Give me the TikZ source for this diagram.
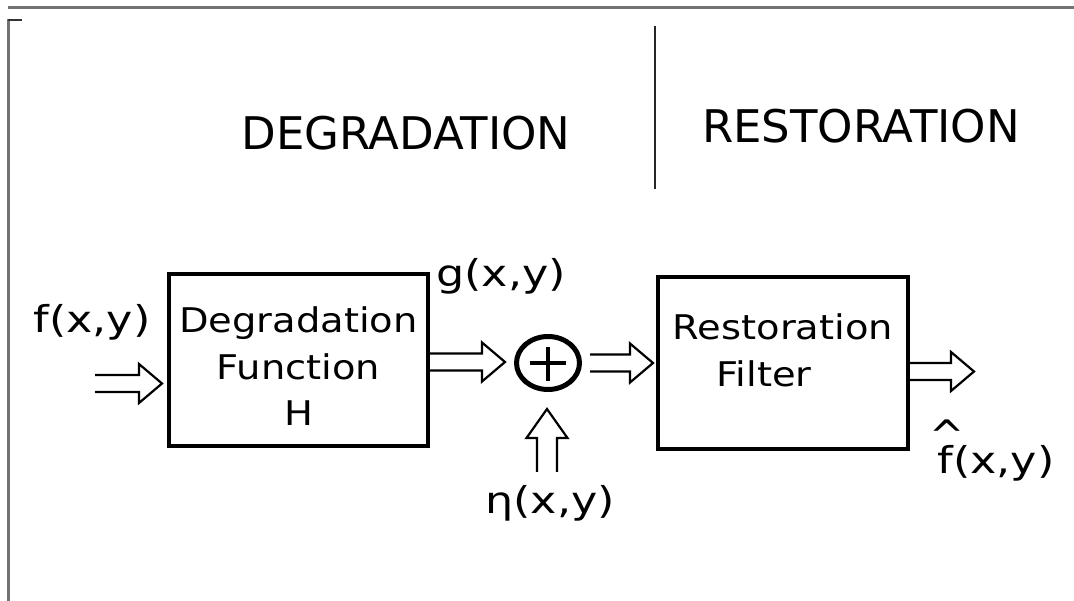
\documentclass[tikz,border=0pt]{standalone}
\usepackage{fontspec}
\setmainfont{DejaVu Sans}
\newfontfamily\hdrfont{DejaVu Sans}
\newfontfamily\boxfont[FakeStretch=1.13]{DejaVu Sans}
\newfontfamily\lblfont[FakeStretch=1.2]{DejaVu Sans}
\usetikzlibrary{calc,shapes.geometric}
\begin{document}
\begin{tikzpicture}[x=1pt,y=-1pt,
  frame/.style={draw=black!55, line width=3pt},
  hdr/.style={font=\hdrfont\fontsize{45}{54}\selectfont, inner sep=0pt},
  blk/.style={draw, line width=4pt, font=\boxfont\fontsize{34}{46.5}\selectfont, align=center, inner sep=0pt},
  lbl/.style={font=\lblfont\fontsize{37}{44}\selectfont, inner sep=0pt, anchor=base},
  harrow/.style={line width=2.2pt, line join=miter, to path={let \p1=(\tikztostart), \p2=(\tikztotarget) in
     (\x1,\y1+8.5pt) -- (\x2-#1-23pt,\y1+8.5pt) -- (\x2-#1-23pt,\y1+19.5pt) -- (\x2-#1,\y1)
     -- (\x2-#1-23pt,\y1-19.5pt) -- (\x2-#1-23pt,\y1-8.5pt) -- (\x1,\y1-8.5pt)}},
  harrow/.default=0pt,
  varrow/.style={line width=2.2pt, line join=miter, to path={let \p1=(\tikztostart), \p2=(\tikztotarget) in
     (\x1-10pt,\y1) -- (\x1-10pt,\y2-#1-29pt) -- (\x1-20.5pt,\y2-#1-29pt) -- (\x1,\y2-#1)
     -- (\x1+20.5pt,\y2-#1-29pt) -- (\x1+10pt,\y2-#1-29pt) -- (\x1+10pt,\y1)}},
  varrow/.default=0pt
]
\useasboundingbox (0,0) rectangle (1074,601);
% frame
\draw[frame] (8,8) -- (1074,8);
\draw[frame] (8.5,19) -- (8.5,601);
\draw[line width=2pt, black!80] (8,20) -- (22,20);
% headings and divider
\node[hdr] (hdeg) at (406,133) {DEGRADATION};
\node[hdr] (hres) at (861,126.5) {RESTORATION};
\coordinate (dtop) at (655,26);
\coordinate (dbot) at (655,189);
\draw[line width=2pt, black!85] (dtop) -- (dbot);
% blocks
\node[blk, minimum width=259, minimum height=172] (deg) at (298.5,360)
  {\rule{0pt}{39pt}Degradation\\Function\\H};
\node[blk, minimum width=250, minimum height=172] (res) at (783,363)
  {Restoration\\Filter\hspace*{38pt}\rule[-26pt]{0pt}{26pt}};
\node[ellipse, draw, line width=5pt, minimum width=63, minimum height=53, inner sep=0pt] (sum) at (548,363) {};
\draw[line width=3.2pt] ($(sum.center)+(-18,0)$) -- ($(sum.center)+(18,0)$);
\draw[line width=3.2pt] ($(sum.center)+(0,-16)$) -- ($(sum.center)+(0,18)$);
% labels
\node[lbl] (lf) at (92,333) {f(x,y)};
\node[lbl] (lg) at (501,287) {g(x,y)};
\node[lbl] (leta) at (550,513) {η(x,y)};
\node[lbl] (lfhat) at (996,473) {\makebox[0pt][l]{\hspace{-8pt}\raisebox{23pt}{\hdrfont\fontsize{42}{42}\selectfont\textasciicircum}}f(x,y)};
% arrows
\coordinate (fin) at (95,383.5);
\coordinate (fintip) at (162,383.5);
\draw[harrow] (fin) to (fintip);
\draw[harrow=9pt] ($(deg.east)+(0,2)$) to (sum.west);
\draw[harrow=3pt] ($(sum.east)+(8,0)$) to (res.west);
\coordinate (fout) at (974,371.5);
\draw[harrow] (res.east |- fout) to (fout);
\coordinate (nin) at (547,472);
\draw[varrow=17pt] (nin) to (sum.south);
\end{tikzpicture}
\end{document}
